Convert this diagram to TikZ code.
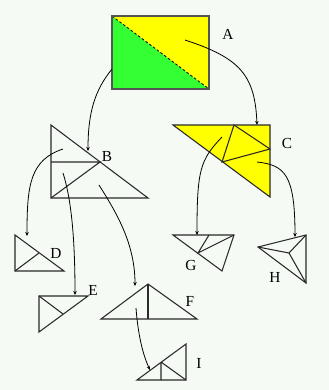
\documentclass[tikz,border=0pt]{standalone}
\usepackage{fontspec}
\setmainfont{Liberation Serif}
\usetikzlibrary{arrows.meta}
\definecolor{bg}{HTML}{F5FAF5}
\definecolor{agreen}{HTML}{33FF33}
\definecolor{ayellow}{HTML}{FFFF00}
\definecolor{edge}{HTML}{2A2A2A}
\tikzset{
  outline/.style={draw=edge, line width=0.8pt, line join=miter},
  innerline/.style={draw=edge, line width=0.8pt},
  conn/.style={draw=black, line width=0.6pt, -{Stealth[length=3pt,width=2.6pt]}},
  lbl/.style={font=\fontsize{11.5}{12}\selectfont, inner sep=0pt}
}
\begin{document}
\begin{tikzpicture}[x=0.75pt,y=-0.75pt]
\fill[bg] (0,0) rectangle (329,390);
\useasboundingbox (0,0) rectangle (329,390);
% ---- A
\coordinate (a1) at (112,16); \coordinate (a2) at (209,16);
\coordinate (a3) at (209,89); \coordinate (a4) at (112,89);
\fill[agreen] (a1) -- (a3) -- (a4) -- cycle;
\fill[ayellow] (a1) -- (a2) -- (a3) -- cycle;
\draw[black, line width=0.6pt, dash pattern=on 2pt off 1.5pt] (a1) -- (a3);
\draw[draw=edge!80, line width=1.1pt] (a1) rectangle (a3);
\node[lbl] (lA) at (228,34) {A};
% ---- B
\coordinate (b1) at (51,125); \coordinate (b2) at (51,198); \coordinate (b3) at (148,198);
\coordinate (bm) at (100,162); \coordinate (bl) at (51,162);
\draw[outline] (b1) -- (b2) -- (b3) -- cycle;
\draw[innerline] (bl) -- (bm) -- (b2);
\node[lbl] (lB) at (107,156) {B};
% ---- C
\coordinate (c1) at (173,125); \coordinate (c2) at (270,125); \coordinate (c3) at (270,197);
\coordinate (cp1) at (234,125); \coordinate (cp2) at (270,149); \coordinate (cp3) at (222,162);
\fill[ayellow] (c1) -- (c2) -- (c3) -- cycle;
\draw[outline] (c1) -- (c2) -- (c3) -- cycle;
\draw[innerline] (cp1) -- (cp2) -- (cp3) -- cycle;
\node[lbl] (lC) at (287,143) {C};
% ---- D
\coordinate (d1) at (15,235); \coordinate (d2) at (15,271); \coordinate (d3) at (64,271);
\coordinate (dm) at (39,253);
\draw[outline] (d1) -- (d2) -- (d3) -- cycle;
\draw[innerline] (d2) -- (dm);
\node[lbl] (lD) at (56,253) {D};
% ---- E
\coordinate (e1) at (39,296); \coordinate (e2) at (88,296); \coordinate (e3) at (39,332);
\coordinate (em) at (63,314);
\draw[outline] (e1) -- (e2) -- (e3) -- cycle;
\draw[innerline] (e1) -- (em);
\node[lbl] (lE) at (93,290) {E};
% ---- F
\coordinate (f1) at (148,284); \coordinate (f2) at (101,319); \coordinate (f3) at (197,319);
\coordinate (fm) at (148,319);
\draw[outline] (f1) -- (f2) -- (f3) -- cycle;
\draw[innerline] (f1) -- (fm);
\node[lbl] (lF) at (190,301) {F};
% ---- G
\coordinate (g1) at (173,235); \coordinate (g2) at (234,235); \coordinate (g3) at (222,271);
\coordinate (gt) at (209,235); \coordinate (gm) at (198,253);
\draw[outline] (g1) -- (g2) -- (g3) -- cycle;
\draw[innerline] (gt) -- (gm) -- (g2);
\node[lbl] (lG) at (191,265) {G};
% ---- H
\coordinate (h1) at (258,247); \coordinate (h2) at (306,235); \coordinate (h3) at (306,283);
\coordinate (hc) at (289,253);
\draw[outline] (h1) -- (h2) -- (h3) -- cycle;
\draw[innerline] (hc) -- (h1) (hc) -- (h2) (hc) -- (h3);
\node[lbl] (lH) at (275,277) {H};
% ---- I
\coordinate (i1) at (137,380); \coordinate (i2) at (186,380); \coordinate (i3) at (186,344);
\coordinate (im) at (161,362); \coordinate (ib) at (161,380);
\draw[outline] (i1) -- (i2) -- (i3) -- cycle;
\draw[innerline] (im) -- (ib) (im) -- (i2);
\node[lbl] (lI) at (199,363) {I};
% ---- connectors
\coordinate (sAC) at (185,40);  \coordinate (tAC) at (257,125);
\coordinate (sAB) at (112,69);  \coordinate (tAB) at (88,151);
\coordinate (sBD) at (63,149);  \coordinate (tBD) at (27,236);
\coordinate (sBE) at (63,173);  \coordinate (tBE) at (75,295);
\coordinate (sBF) at (99,185);  \coordinate (tBF) at (135,286);
\coordinate (sFI) at (136,308); \coordinate (tFI) at (150,370);
\coordinate (sCG) at (222,137); \coordinate (tCG) at (197,235);
\coordinate (sCH) at (257,162); \coordinate (tCH) at (295,237);
\draw[conn] (sAC) .. controls (240,58) and (255,75) .. (tAC);
\draw[conn] (sAB) .. controls (95,90) and (88,112) .. (tAB);
\draw[conn] (sBD) .. controls (30,160) and (27,185) .. (tBD);
\draw[conn] (sBE) .. controls (70,195) and (75,230) .. (tBE);
\draw[conn] (sBF) .. controls (118,215) and (135,245) .. (tBF);
\draw[conn] (sFI) .. controls (138,335) and (143,355) .. (tFI);
\draw[conn] (sCG) .. controls (200,160) and (197,170) .. (tCG);
\draw[conn] (sCH) .. controls (285,165) and (295,175) .. (tCH);
\end{tikzpicture}
\end{document}
